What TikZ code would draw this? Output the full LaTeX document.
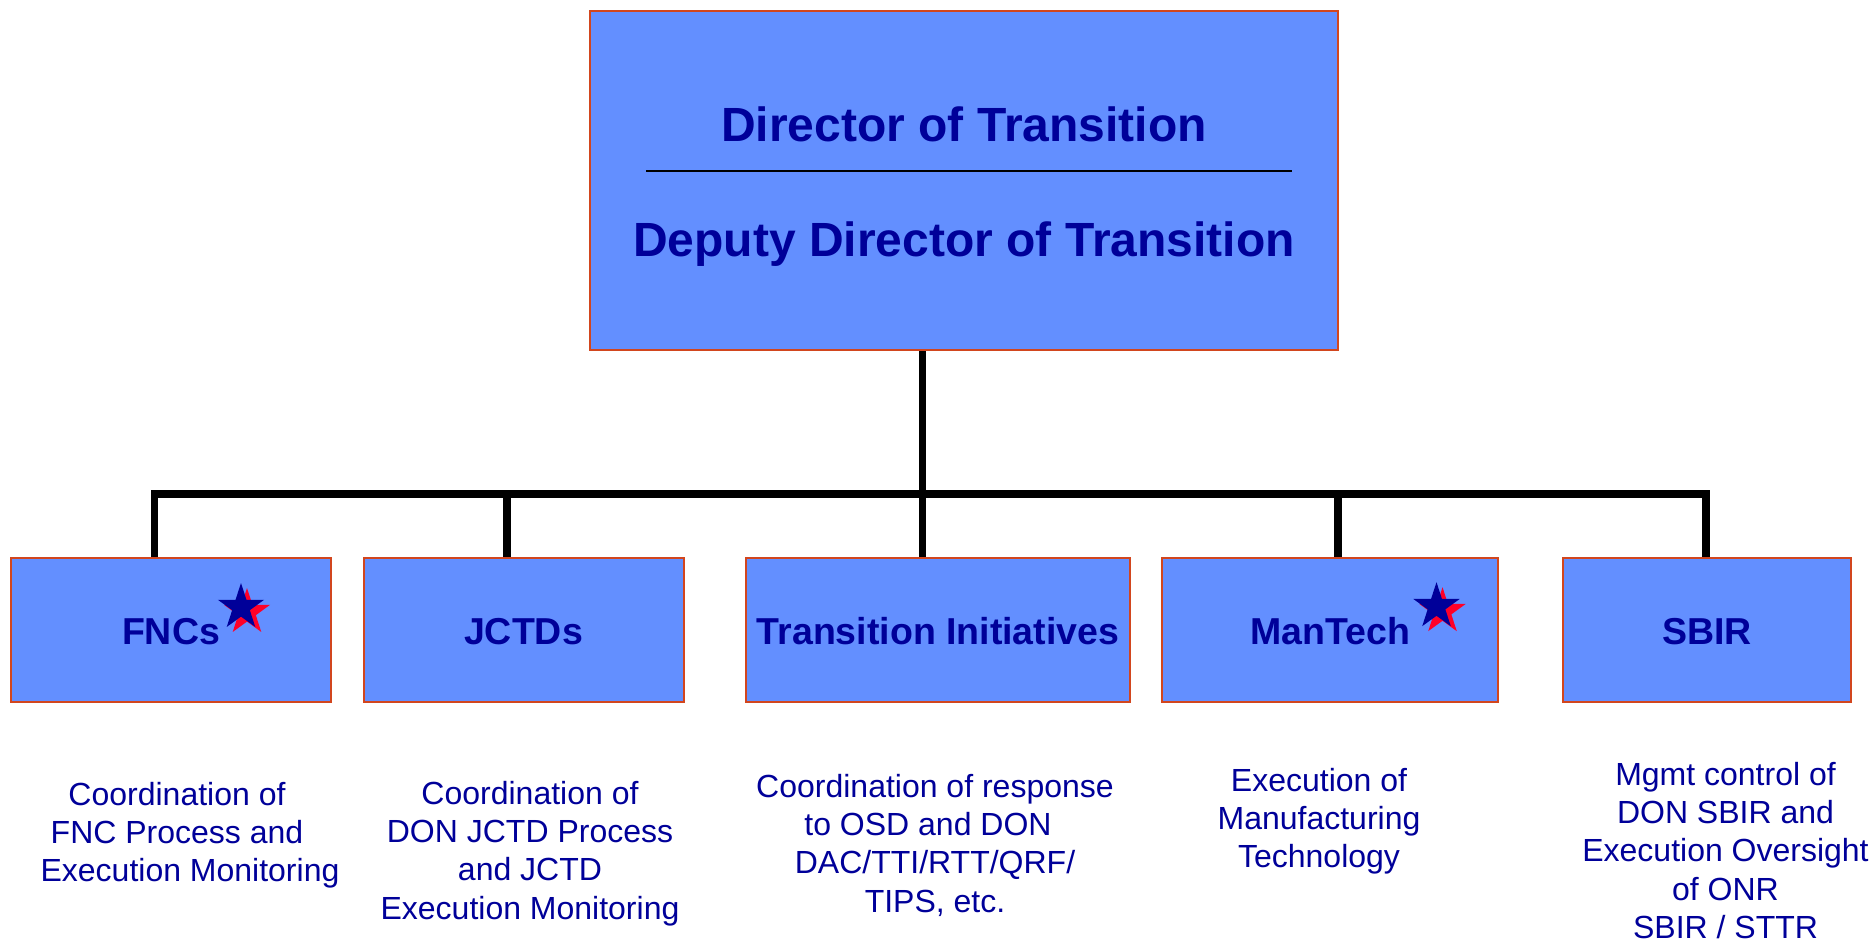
\documentclass[tikz,border=0pt]{standalone}
\usepackage{fontspec}
\setmainfont{Liberation Sans}
\definecolor{boxfill}{RGB}{99,143,255}
\definecolor{boxedge}{RGB}{210,70,30}
\definecolor{navy}{RGB}{0,0,153}
\definecolor{starred}{RGB}{255,0,40}
\begin{document}
\begin{tikzpicture}[x=1pt,y=-1pt,
  box/.style={draw=boxedge, line width=2pt, fill=boxfill, inner sep=0pt, minimum height=144pt},
  title/.style={text=navy, font=\fontsize{48}{57}\selectfont\bfseries, inner sep=0pt, anchor=base},
  boxlabel/.style={text=navy, font=\fontsize{37.5}{45}\selectfont\bfseries, inner sep=0pt, anchor=base},
  desc/.style={text=navy, font=\fontsize{32}{38.3}\selectfont, align=center, inner sep=0pt, anchor=north},
  conn/.style={line width=7.5pt, black},
  starpic/.pic={\fill (90:24.3pt) -- (126:9.3pt) -- (162:24.3pt) -- (198:9.3pt) -- (234:24.3pt) -- (270:9.3pt) -- (306:24.3pt) -- (342:9.3pt) -- (18:24.3pt) -- (54:9.3pt) -- cycle;}
]
\useasboundingbox (0,0) rectangle (1875,940);

% top box
\node[box, minimum width=748.5pt, minimum height=339.6pt] (dir) at (963.75,180.6) {};
\node[title] (t1) at (964,141.5) {Director of Transition};
\node[title] (t2) at (964,256.5) {Deputy Director of Transition};
\coordinate (sepL) at (646,171);
\coordinate (sepR) at (1292,171);
\draw[line width=1.5pt] (sepL) -- (sepR);

% lower boxes
\node[box, minimum width=320pt] (fnc) at (171,630) {};
\node[box, minimum width=320pt] (jctd) at (523.5,630) {};
\node[box, minimum width=384pt] (ti) at (938,630) {};
\node[box, minimum width=336pt] (mt) at (1330.3,630) {};
\node[box, minimum width=288pt] (sbir) at (1707,630) {};

\node[boxlabel] (lfnc) at (171,644) {FNCs};
\node[boxlabel] (ljctd) at (523.5,644) {JCTDs};
\node[boxlabel] (lti) at (938,644) {Transition Initiatives};
\node[boxlabel] (lmt) at (1330.3,644) {ManTech};
\node[boxlabel] (lsbir) at (1707,644) {SBIR};

% stars
\pic[starred] at (247,612.3) {starpic};
\pic[navy] at (241,607.3) {starpic};
\pic[starred] at (1442.5,611.5) {starpic};
\pic[navy] at (1436.5,606.5) {starpic};

% connectors
\coordinate (trunk) at (922.5,494);
\coordinate (bl) at (154.5,494);
\coordinate (br) at (1706,494);
\coordinate (d2) at (507,494);
\coordinate (d4) at (1338,494);
\draw[conn] (dir.south -| trunk) -- (trunk);
\draw[conn, line cap=rect] (bl) -- (br);
\draw[conn] (bl) -- (bl |- fnc.north);
\draw[conn] (d2) -- (d2 |- jctd.north);
\draw[conn] (trunk) -- (trunk |- ti.north);
\draw[conn] (d4) -- (d4 |- mt.north);
\draw[conn] (br) -- (br |- sbir.north);

% descriptions
\node[desc] (dfnc) at (190,782) {\mbox{Coordination of\hspace{26pt}}\\\mbox{FNC Process and\hspace{26pt}}\\Execution Monitoring};
\node[desc] (djctd) at (530,781) {Coordination of\\DON JCTD Process\\and JCTD\\Execution Monitoring};
\node[desc] (dti) at (935,774) {Coordination of response\\\mbox{to OSD and DON\hspace{14pt}}\\DAC/TTI/RTT/QRF/\\TIPS, etc.};
\node[desc] (dmt) at (1319,768) {Execution of\\Manufacturing\\Technology};
\node[desc] (dsbir) at (1725.5,762) {Mgmt control of\\DON SBIR and\\Execution Oversight\\of ONR\\SBIR / STTR};
\end{tikzpicture}
\end{document}
